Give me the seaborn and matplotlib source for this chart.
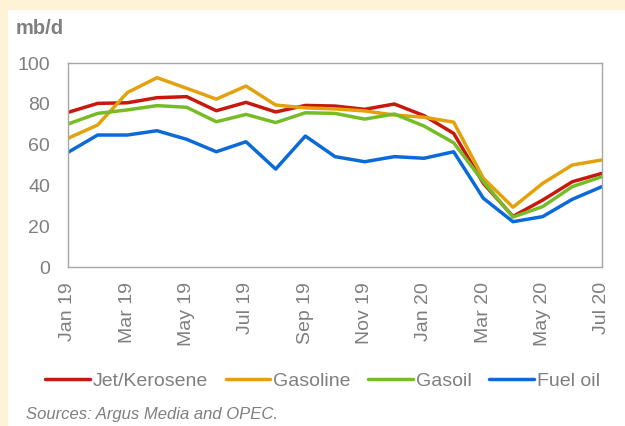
import pandas as pd
import seaborn as sns
import matplotlib.pyplot as plt

# monthly values, Jan 19 .. Jul 20 (mb/d)
months = ['Jan 19', 'Feb 19', 'Mar 19', 'Apr 19', 'May 19', 'Jun 19', 'Jul 19',
          'Aug 19', 'Sep 19', 'Oct 19', 'Nov 19', 'Dec 19', 'Jan 20', 'Feb 20',
          'Mar 20', 'Apr 20', 'May 20', 'Jun 20', 'Jul 20']
jet = [75.8, 80.2, 80.5, 83.0, 83.5, 76.6, 80.7, 76.0, 79.2, 78.9, 77.3, 79.9,
       74.2, 65.5, 41.0, 24.8, 32.8, 41.8, 45.9]
gasoline = [63.1, 69.6, 85.5, 92.8, 87.6, 82.3, 88.7, 79.4, 78.0, 77.5, 76.5, 74.5,
            73.4, 71.0, 43.5, 29.3, 41.0, 50.0, 52.5]
gasoil = [70.1, 75.3, 77.0, 79.1, 78.3, 71.2, 74.8, 70.8, 75.6, 75.3, 72.5, 75.0,
          69.1, 60.9, 41.8, 24.5, 29.6, 39.4, 44.3]
fuel_oil = [56.2, 64.7, 64.7, 66.8, 62.6, 56.5, 61.4, 48.0, 64.2, 54.1, 51.6, 54.1,
            53.3, 56.5, 33.7, 22.2, 24.7, 33.2, 39.4]

series = {'Jet/Kerosene': jet, 'Gasoline': gasoline, 'Gasoil': gasoil, 'Fuel oil': fuel_oil}
colors = ['#C8170C', '#E3A20B', '#76BC26', '#0A6BD8']

rows = []
for name, vals in series.items():
    for i, v in enumerate(vals):
        rows.append({'month': i, 'product': name, 'value': v})
df = pd.DataFrame(rows)

sns.set_style('white')
plt.rcParams['font.family'] = ['Liberation Sans', 'DejaVu Sans']
grey = '#7F7F7F'

fig = plt.figure(figsize=(6.25, 4.26), dpi=100)
fig.patch.set_facecolor('#FEF3D6')
# white panel
fig.add_artist(plt.Rectangle((8 / 625, 0), 1, 1 - 10 / 426, transform=fig.transFigure,
                             facecolor='white', edgecolor='none', zorder=0))

ax = fig.add_axes([68 / 625, 1 - 267 / 426, (602 - 68) / 625, (267 - 63) / 426])
sns.lineplot(data=df, x='month', y='value', hue='product', palette=colors,
             linewidth=2.5, ax=ax, legend=False, sort=False)

ax.set_xlim(0, len(months) - 1)
ax.set_ylim(0, 100)
ax.set_yticks(range(0, 101, 20))
ax.set_xticks(range(0, len(months), 2))
ax.set_xticklabels(months[::2], rotation=90)
ax.tick_params(axis='both', colors=grey, labelsize=14, length=0)
ax.tick_params(axis='y', pad=13)
ax.tick_params(axis='x', pad=11)
ax.set_xlabel('')
ax.set_ylabel('')
for s in ax.spines.values():
    s.set_color('#A6A6A6')
    s.set_linewidth(1)
ax.set_facecolor('white')

fig.text(16 / 625, 1 - 28 / 426, 'mb/d', color=grey, fontsize=14.5, fontweight='bold',
         va='center', ha='left')

handles = [plt.Line2D([0], [0], color=c, lw=2.5) for c in colors]
fig.legend(handles, list(series.keys()), loc='center', bbox_to_anchor=(0.516, 1 - 381 / 426),
           ncol=4, frameon=False, fontsize=14, labelcolor=grey, handlelength=2.3,
           handletextpad=0.15, columnspacing=0.9)

fig.text(26 / 625, 1 - 414 / 426, 'Sources: Argus Media and OPEC.', color=grey,
         fontsize=12, style='italic', va='center', ha='left')

fig.savefig('out.png', dpi=100, facecolor=fig.get_facecolor())
